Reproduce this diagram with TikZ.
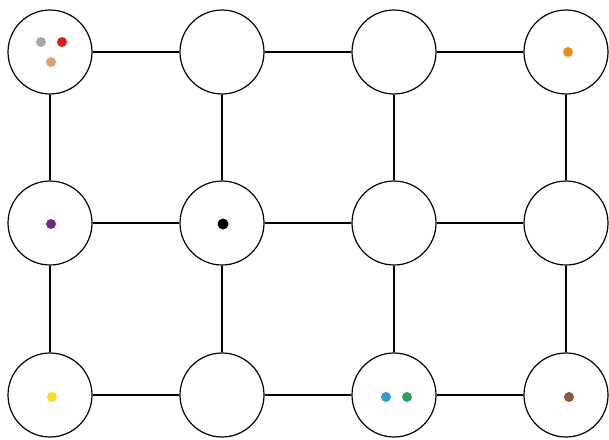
\documentclass[tikz,border=0pt]{standalone}
\usepackage{tikz}
\definecolor{dgray}{HTML}{A8A8A8}
\definecolor{dred}{HTML}{D42020}
\definecolor{dtan}{HTML}{E0A070}
\definecolor{dorange}{HTML}{E88A1C}
\definecolor{dpurple}{HTML}{6A2A8A}
\definecolor{dyellow}{HTML}{F5E020}
\definecolor{dblue}{HTML}{2AA0D0}
\definecolor{dgreen}{HTML}{30A060}
\definecolor{dbrown}{HTML}{8A5A3A}
\tikzset{
  cell/.style={circle, draw=black, line width=1.2pt, minimum size=84pt, inner sep=0pt, fill=white},
  link/.style={line width=1.2pt, draw=black},
  dot/.style={circle, fill=#1, minimum size=10pt, inner sep=0pt, draw=none}
}
\begin{document}
\begin{tikzpicture}[x=1pt,y=-1pt]
\useasboundingbox (0,0) rectangle (609,439);
\fill[white] (0,0) rectangle (609,439);
% circles
\node[cell] (a1) at (50,52) {};
\node[cell] (a2) at (222,52) {};
\node[cell] (a3) at (394,52) {};
\node[cell] (a4) at (566,52) {};
\node[cell] (b1) at (50,223) {};
\node[cell] (b2) at (222,223) {};
\node[cell] (b3) at (394,223) {};
\node[cell] (b4) at (566,223) {};
\node[cell] (c1) at (50,395) {};
\node[cell] (c2) at (222,395) {};
\node[cell] (c3) at (394,395) {};
\node[cell] (c4) at (566,395) {};
% connectors
\draw[link] (a1) -- (a2);
\draw[link] (a2) -- (a3);
\draw[link] (a3) -- (a4);
\draw[link] (b1) -- (b2);
\draw[link] (b2) -- (b3);
\draw[link] (b3) -- (b4);
\draw[link] (c1) -- (c2);
\draw[link] (c2) -- (c3);
\draw[link] (c3) -- (c4);
\draw[link] (a1) -- (b1);
\draw[link] (b1) -- (c1);
\draw[link] (a2) -- (b2);
\draw[link] (b2) -- (c2);
\draw[link] (a3) -- (b3);
\draw[link] (b3) -- (c3);
\draw[link] (a4) -- (b4);
\draw[link] (b4) -- (c4);
% dots
\node[dot=dgray] (g1) at (41,42) {};
\node[dot=dred] (r1) at (62,42) {};
\node[dot=dtan] (t1) at (51,62) {};
\node[dot=dorange] (o1) at (568,52) {};
\node[dot=dpurple] (p1) at (51,224) {};
\node[dot=black, minimum size=11pt] (k1) at (223,224) {};
\node[dot=dyellow] (y1) at (52,397) {};
\node[dot=dblue] (bl1) at (386,397) {};
\node[dot=dgreen] (gr1) at (407,397) {};
\node[dot=dbrown] (br1) at (569,397) {};
\end{tikzpicture}
\end{document}
